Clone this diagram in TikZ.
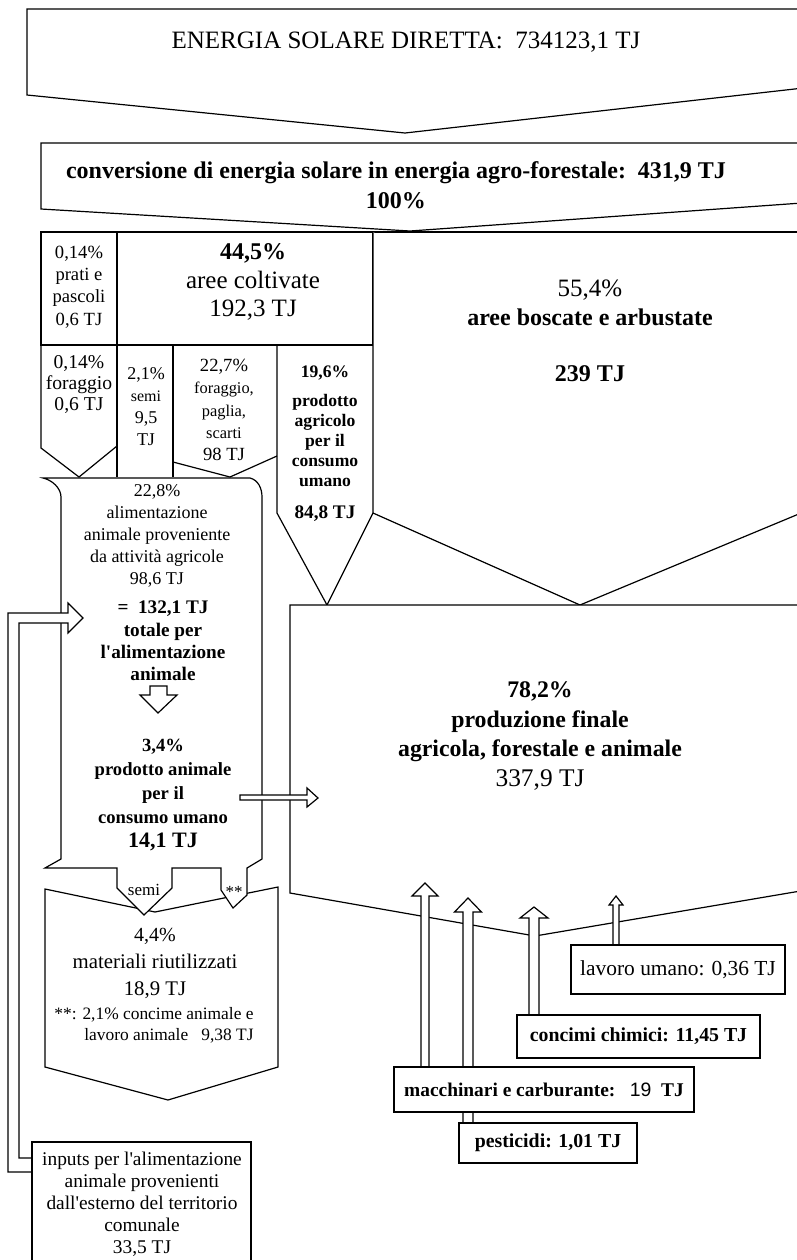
\documentclass[tikz,border=0pt]{standalone}
\usepackage{fontspec}
\setmainfont{Liberation Serif}
\newfontfamily\arialfont{Liberation Sans}
\usepackage{tikz}
\usetikzlibrary{positioning,calc}

\newcommand{\fsz}[2]{\fontsize{#1}{#2}\selectfont}
\newcommand{\apo}{\textquotesingle}

\tikzset{
  ln/.style   ={line width=.6pt, draw=black, line join=miter},
  blk/.style  ={ln, fill=white},
  arr/.style  ={ln, fill=white},
  txt/.style  ={align=center, inner sep=0pt, text=black},
  inbox/.style={draw, line width=.6pt, fill=white, inner sep=0pt, align=center, text=black},
}

\begin{document}
\begin{tikzpicture}[x=0.5pt,y=-0.5pt]
  \path[use as bounding box] (0,0) rectangle (797,1260);
  \fill[white] (0,0) rectangle (797,1260);
  \clip (0,0) rectangle (797,1260);
  % --- solar input and conversion ---
  \draw[blk] (830,9) -- (27,9) -- (27,95) -- (405,133) -- (830,85);
  \node[txt, font=\fsz{12.5}{15}] (sole) at (406,42) {ENERGIA SOLARE DIRETTA:\ \ 734123,1 TJ};
  \draw[blk] (830,143) -- (41,143) -- (41,209) -- (410,231) -- (830,201);
  \node[txt, font=\bfseries\fsz{12}{15}] (conv) at (396,185)
       {conversione di energia solare in energia agro-forestale:\ \ 431,9 TJ\\100\%};
  % --- land use row ---
  \draw[ln] (41,232) -- (830,232);
  \draw[ln] (41,232) rectangle (117,345);
  \draw[ln] (117,232) rectangle (373,345);
  \draw[blk] (373,232) -- (373,513) -- (580,605) -- (830,501);
  % --- split of cultivated areas ---
  \draw[ln] (41,345) -- (41,448) -- (79,477) -- (117,446);
  \draw[ln] (117,345) -- (117,477);
  \draw[ln] (173,345) -- (173,477);
  \draw[ln] (173,462) -- (230,477) -- (277,456);
  \draw[ln] (277,345) -- (277,513) -- (327,605) -- (373,513);
  % --- final production ---
  \draw[blk] (830,605) -- (290,605) -- (290,893) -- (535,936) -- (830,886);
  % --- reused materials ---
  \draw[blk] (45,889) -- (155,912) -- (278,887) -- (278,1067) -- (168,1100) -- (45,1067) -- cycle;
  % --- animal feed block (with the two outlets) ---
  \draw[blk] (43,478) -- (250,478) .. controls (258,480) and (262,488) .. (262,497)
     -- (262,859) -- (247,868) -- (247,895) -- (233,908) -- (221,890) -- (221,868)
     -- (172,868) -- (172,888) -- (144,915) -- (117,888) -- (117,868)
     -- (45,868) -- (61,859) -- (61,497) .. controls (61,488) and (52,480) .. (43,478) -- cycle;
  \node[txt, font=\fsz{8.5}{9}] (semilbl) at (144,890) {semi};
  \node[txt, font=\fsz{8.5}{9}] (starlbl) at (234,892) {**};
  % --- external feed inputs ---
  \draw[arr] (40,1172) -- (8,1172) -- (8,613) -- (68,613) -- (68,603) -- (83,618)
     -- (68,633) -- (68,623) -- (19,623) -- (19,1158) -- (40,1158);
  \draw[blk] (32,1275) -- (32,1142) -- (251,1142) -- (251,1275);
  \draw[arr] (150,686) -- (167,686) -- (167,695) -- (177,695) -- (158,713) -- (140,695) -- (150,695) -- cycle;
  \draw[arr] (240,795) -- (307,795) -- (307,788) -- (318,798) -- (307,807) -- (307,800) -- (240,800) -- cycle;
  % --- texts ---
  \node[txt, font=\fsz{9.3}{11.2}] (prati) at (79,287) {0,14\%\\prati e\\pascoli\\0,6 TJ};
  \node[txt, font=\fsz{12.5}{14.2}] (colt) at (253,282)
       {{\bfseries\fsz{12}{14.2}44,5\%}\\aree coltivate\\192,3 TJ};
  \node[txt, font=\fsz{12.5}{14.5}] (bosc) at (590,331)
       {55,4\%\\{\bfseries\fsz{12}{14.5}aree boscate e arbustate}\\[13.5pt]{\bfseries\fsz{12}{14.5}239 TJ}};
  \node[txt, font=\fsz{9.8}{10.5}] (forag) at (79,384) {0,14\%\\foraggio\\0,6 TJ};
  \node[txt, font=\fsz{9}{11}] (semi) at (146,407) {2,1\%\\{\fsz{8}{11}semi}\\9,5\\TJ};
  \node[txt, font=\fsz{9.3}{11.2}] (scarti) at (224,410)
       {22,7\%\\{\fsz{8.2}{11.2}foraggio,}\\{\fsz{8.2}{11.2}paglia,}\\{\fsz{8.2}{11.2}scarti}\\98 TJ};
  \node[txt, font=\bfseries\fsz{8.8}{10}] (agr) at (325,444)
       {19,6\%\\[4.5pt]prodotto\\agricolo\\per il\\consumo\\umano\\[6pt]{\fsz{9.6}{10}84,8 TJ}};
  \node[txt, font=\fsz{9}{11}] (alim) at (157,536)
       {22,8\%\\alimentazione\\animale proveniente\\da attività agricole\\98,6 TJ};
  \node[txt, font=\bfseries\fsz{9.6}{11.2}] (tot) at (163,641)
       {=\ \ 132,1 TJ\\totale per\\l\apo alimentazione\\animale};
  \node[txt, font=\bfseries\fsz{9.3}{12}] (prodan) at (163,795)
       {3,4\%\\prodotto animale\\per il\\consumo umano\\{\fsz{11}{12}14,1 TJ}};
  \node[txt, font=\fsz{10.4}{13.5}] (mat) at (155,963)
       {{\fsz{10}{13.5}4,4\%}\\materiali riutilizzati\\18,9 TJ};
  \node[txt, align=right, font=\fsz{8.7}{10.5}] (note) at (154,1025)
       {**: 2,1\% concime animale e\\lavoro animale\ \ \ 9,38 TJ};
  \node[txt, font=\fsz{9.7}{11}] (inp) at (142,1204)
       {inputs per l\apo alimentazione\\animale provenienti\\dall\apo esterno del territorio\\comunale\\33,5 TJ};
  \node[txt, font=\bfseries\fsz{11.9}{14.7}] (prod) at (540,736)
       {78,2\%\\produzione finale\\agricola, forestale e animale\\{\mdseries\fsz{12.7}{14.7}337,9 TJ}};
  % --- external inputs to final production ---
  \foreach \x/\yb/\yh/\yt/\s/\h in {468/1125/912/898/5/13.5, 425/1069/896/883/4/13,
                                    534/1017/918/907/5/14, 616/947/905/896/3/7}
     \draw[arr] ({\x-\s},\yb) -- ({\x-\s},\yh) -- ({\x-\h},\yh) -- (\x,\yt)
        -- ({\x+\h},\yh) -- ({\x+\s},\yh) -- ({\x+\s},\yb);
  \node[inbox, minimum width=107pt, minimum height=24.5pt, font=\fsz{10.7}{12}] (lav) at (678,969.5)
       {lavoro umano: 0,36 TJ};
  \node[inbox, minimum width=121.5pt, minimum height=21.5pt, font=\bfseries\fsz{9.9}{12}] (conc) at (638.5,1036.5)
       {concimi chimici: 11,45 TJ};
  \node[inbox, minimum width=150pt, minimum height=22.5pt, font=\bfseries\fsz{9.7}{12}] (macc) at (544,1089.5)
       {macchinari e carburante:\ \ \ {\arialfont\mdseries 19}\ \ TJ};
  \node[inbox, minimum width=89pt, minimum height=20pt, font=\bfseries\fsz{9.9}{12}] (pest) at (548,1143)
       {pesticidi: 1,01 TJ};
\end{tikzpicture}
\end{document}
